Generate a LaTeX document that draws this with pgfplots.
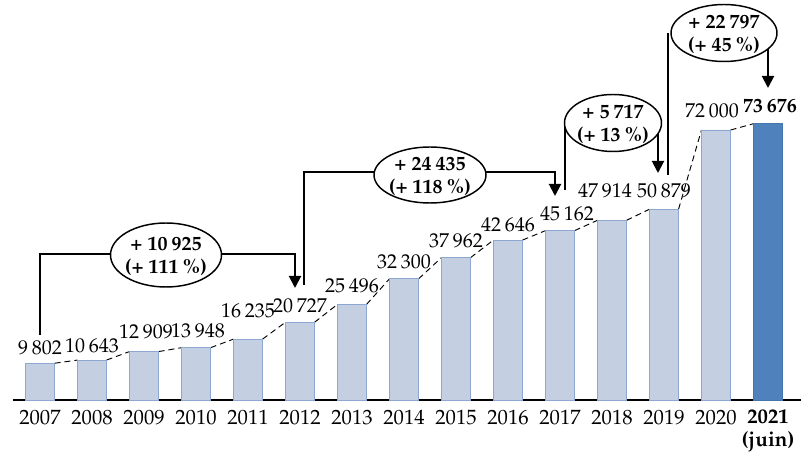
\documentclass[border=0pt]{standalone}
\usepackage[T1]{fontenc}
\usepackage{mathpazo}
\usepackage{pgfplots}
\pgfplotsset{compat=1.18}
\usetikzlibrary{arrows.meta}
\definecolor{barL}{RGB}{196,207,226}
\definecolor{barLe}{RGB}{140,167,210}
\definecolor{barD}{RGB}{79,129,189}
\definecolor{barDe}{RGB}{70,116,172}
\newcommand\sep{\hspace{0.2em}}
\newcommand\lab[4]{\node[anchor=base,inner sep=0pt,xshift=#3*0.75pt,yshift=#4*0.75pt] at (axis cs:#1) {#2};}
\begin{document}
\begin{tikzpicture}[font=\fontsize{15}{17.3}\selectfont]
\begin{axis}[
  scale only axis, width=590.85pt, height=300pt,
  xmin=-0.52, xmax=14.63, ymin=0, ymax=106667,
  axis x line*=bottom, axis y line=none,
  x axis line style={line width=1.1pt, black},
  xtick={0,...,14},
  xticklabels={2007,2008,2009,2010,2011,2012,2013,2014,2015,2016,2017,2018,2019,2020,{\textbf{2021}\\\textbf{(juin)}}},
  major tick length=0pt,
  xticklabel style={anchor=north, align=center, inner sep=0pt, yshift=-7.3pt, font=\fontsize{15.5}{17.3}\selectfont},
  clip=false,
]
\addplot[black, line width=0.7pt, dash pattern=on 4.5pt off 3pt, unbounded coords=jump] coordinates {
(0.28,9802) (0.72,10643) (0.75,nan)
(1.28,10643) (1.72,12909) (1.75,nan)
(2.28,12909) (2.72,13948) (2.75,nan)
(3.28,13948) (3.72,16235) (3.75,nan)
(4.28,16235) (4.72,20727) (4.75,nan)
(5.28,20727) (5.72,25496) (5.75,nan)
(6.28,25496) (6.72,32300) (6.75,nan)
(7.28,32300) (7.72,37962) (7.75,nan)
(8.28,37962) (8.72,42646) (8.75,nan)
(9.28,42646) (9.72,45162) (9.75,nan)
(10.28,45162) (10.72,47914) (10.75,nan)
(11.28,47914) (11.72,50879) (11.75,nan)
(12.28,50879) (12.72,72000) (12.75,nan)
(13.28,72000) (13.72,73676)
};
\addplot[ybar, bar width=0.56, bar shift=0pt, fill=barL, draw=barLe, line width=0.6pt] coordinates {
(0,9802) (1,10643) (2,12909) (3,13948) (4,16235) (5,20727) (6,25496)
(7,32300) (8,37962) (9,42646) (10,45162) (11,47914) (12,50879) (13,72000)
};
\addplot[ybar, bar width=0.56, bar shift=0pt, fill=barD, draw=barDe, line width=0.6pt] coordinates {(14,73676)};
\lab{0,9802}{9\sep802}{0}{9}
\lab{1,10643}{10\sep643}{0}{8}
\lab{2,12909}{12\sep909}{2}{13}
\lab{3,13948}{13\sep948}{2}{10}
\lab{4,16235}{16\sep235}{0}{22}
\lab{5,20727}{20\sep727}{0}{10}
\lab{6,25496}{25\sep496}{0}{12}
\lab{7,32300}{32\sep300}{0}{10}
\lab{8,37962}{37\sep962}{0}{10}
\lab{9,42646}{42\sep646}{0}{9}
\lab{10,45162}{45\sep162}{7}{10}
\lab{11,47914}{47\sep914}{-7}{23}
\lab{12,50879}{50\sep879}{0}{12}
\lab{13,72000}{72\sep000}{-4}{12}
\lab{14,73676}{\textbf{73\sep676}}{2}{11}
\coordinate (TL) at (axis cs:-0.769231,106667);
\end{axis}
\begin{scope}[shift={(TL)}, x=0.75pt, y=-0.75pt, line width=1.5pt]
\path (0,0) rectangle (808,464);
\draw (40,335) -- (40,254) -- (166,254);
\draw[-{Triangle[width=9pt,length=9pt]}] (166,254) -- (295,254) -- (295,288);
\draw (304,285) -- (304,172) -- (430,172);
\draw[-{Triangle[width=9pt,length=9pt]}] (430,172) -- (555,172) -- (555,196);
\draw (565,190) -- (565,127);
\draw[-{Triangle[width=9pt,length=9pt]}] (658,127) -- (658,173);
\draw (668,175) -- (668,33);
\draw[-{Triangle[width=9pt,length=9pt]}] (768,38) -- (768,88);
\begin{scope}[line width=1.1pt]
\draw[fill=white] (166,255) ellipse [x radius=55.5, y radius=32];
\draw[fill=white] (430,175) ellipse [x radius=56, y radius=28];
\draw[fill=white] (613,123) ellipse [x radius=48.5, y radius=28.5];
\draw[fill=white] (724,33) ellipse [x radius=53, y radius=28.5];
\end{scope}
\tikzset{ann/.style={align=center, inner sep=0pt, font=\bfseries\fontsize{15}{17.3}\selectfont}}
\node[ann] at (166,256) {+ 10\sep925\\(+ 111\sep\%)};
\node[ann] at (430,176) {+ 24\sep435\\(+ 118\sep\%)};
\node[ann] at (613,124) {+ 5\sep717\\(+ 13\sep\%)};
\node[ann] at (724,34) {+ 22\sep797\\(+ 45\sep\%)};
\end{scope}
\end{tikzpicture}
\end{document}
